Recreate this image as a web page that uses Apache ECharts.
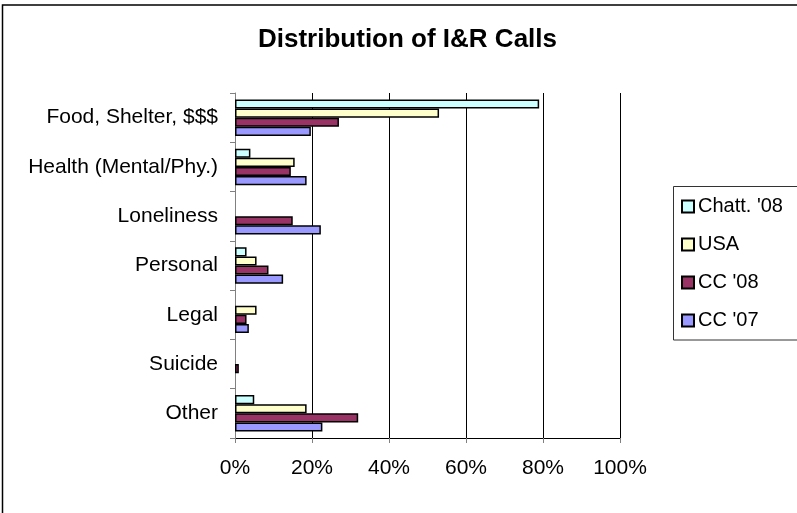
<!DOCTYPE html>
<html>
<head>
<meta charset="utf-8">
<title>Distribution of I&amp;R Calls</title>
<script src="https://cdn.jsdelivr.net/npm/echarts@6/dist/echarts.min.js"></script>
<style>
  html, body { margin: 0; padding: 0; background: #fff; }
  #chart { width: 797px; height: 513px; }
</style>
</head>
<body>
<div id="chart"></div>
<script>
// categories, top to bottom
var categories = ['Food, Shelter, $$$', 'Health (Mental/Phy.)', 'Loneliness', 'Personal', 'Legal', 'Suicide', 'Other'];
var seriesNames = ["Chatt. '08", 'USA', "CC '08", "CC '07"];
// percent of calls, null = no bar
var chatt08 = [79, 4, null, 3, null, null, 5];
var usa = [53, 15.5, null, 5.6, 5.6, null, 18.6];
var cc08 = [27, 14.5, 15, 8.7, 3, 1, 32];
var cc07 = [19.7, 18.6, 22.3, 12.5, 3.6, null, 22.7];
var xTicks = [0, 20, 40, 60, 80, 100];

var colors = ['#CCFFFF', '#FFFFCC', '#993366', '#9999FF'];
var font = 'Liberation Sans, Arial, sans-serif';

var myChart = echarts.init(document.getElementById('chart'));

function barSeries(name, data, color) {
        return {
                name: name,
                type: 'bar',
                data: data,
                barGap: '0%',
                barCategoryGap: '26%',
                itemStyle: { color: color, borderColor: '#000', borderWidth: 1.5 },
                emphasis: { disabled: true }
        };
}

var option = {
        animation: false,
        title: {
                text: 'Distribution of I&R Calls',
                left: 258,
                top: 27,
                padding: 0,
                textStyle: { fontFamily: font, fontSize: 26, fontWeight: 'bold', color: '#000' }
        },
        legend: {
                orient: 'vertical',
                left: 681,
                top: 196,
                padding: 0,
                itemGap: 17,
                itemWidth: 12,
                itemHeight: 12,
                icon: 'rect',
                data: seriesNames,
                textStyle: { fontFamily: font, fontSize: 20, color: '#000', lineHeight: 21, padding: [0, 0, 0, -1] }
        },
        grid: { left: 235, right: 177, top: 93, bottom: 75, containLabel: false },
        xAxis: {
                type: 'value',
                min: xTicks[0],
                max: xTicks[xTicks.length - 1],
                interval: 20,
                axisLine: { show: true, lineStyle: { color: '#000', width: 1 } },
                axisTick: { show: true, length: 5, lineStyle: { color: '#808080' } },
                axisLabel: { formatter: '{value}%', margin: 20, fontFamily: font, fontSize: 21, color: '#000' },
                splitLine: { show: true, lineStyle: { color: '#000', width: 1 } }
        },
        yAxis: {
                type: 'category',
                data: categories,
                inverse: true,
                axisLine: { show: true, lineStyle: { color: '#808080', width: 1 } },
                axisTick: { show: true, length: 5, alignWithLabel: false, lineStyle: { color: '#808080' } },
                axisLabel: { margin: 17, fontFamily: font, fontSize: 21, color: '#000' },
                splitLine: { show: false }
        },
        series: [
                barSeries(seriesNames[0], chatt08, colors[0]),
                barSeries(seriesNames[1], usa, colors[1]),
                barSeries(seriesNames[2], cc08, colors[2]),
                barSeries(seriesNames[3], cc07, colors[3])
        ],
        graphic: [
                {
                        type: 'rect',
                        silent: true,
                        shape: { x: 2.5, y: 5, width: 1000, height: 1000 },
                        style: { fill: 'none', stroke: '#000', lineWidth: 1.5 }
                },
                {
                        type: 'rect',
                        silent: true,
                        shape: { x: 673.5, y: 186.5, width: 200, height: 153.5 },
                        style: { fill: 'none', stroke: '#333', lineWidth: 1 }
                }
        ]
};
myChart.setOption(option);
</script>
</body>
</html>
